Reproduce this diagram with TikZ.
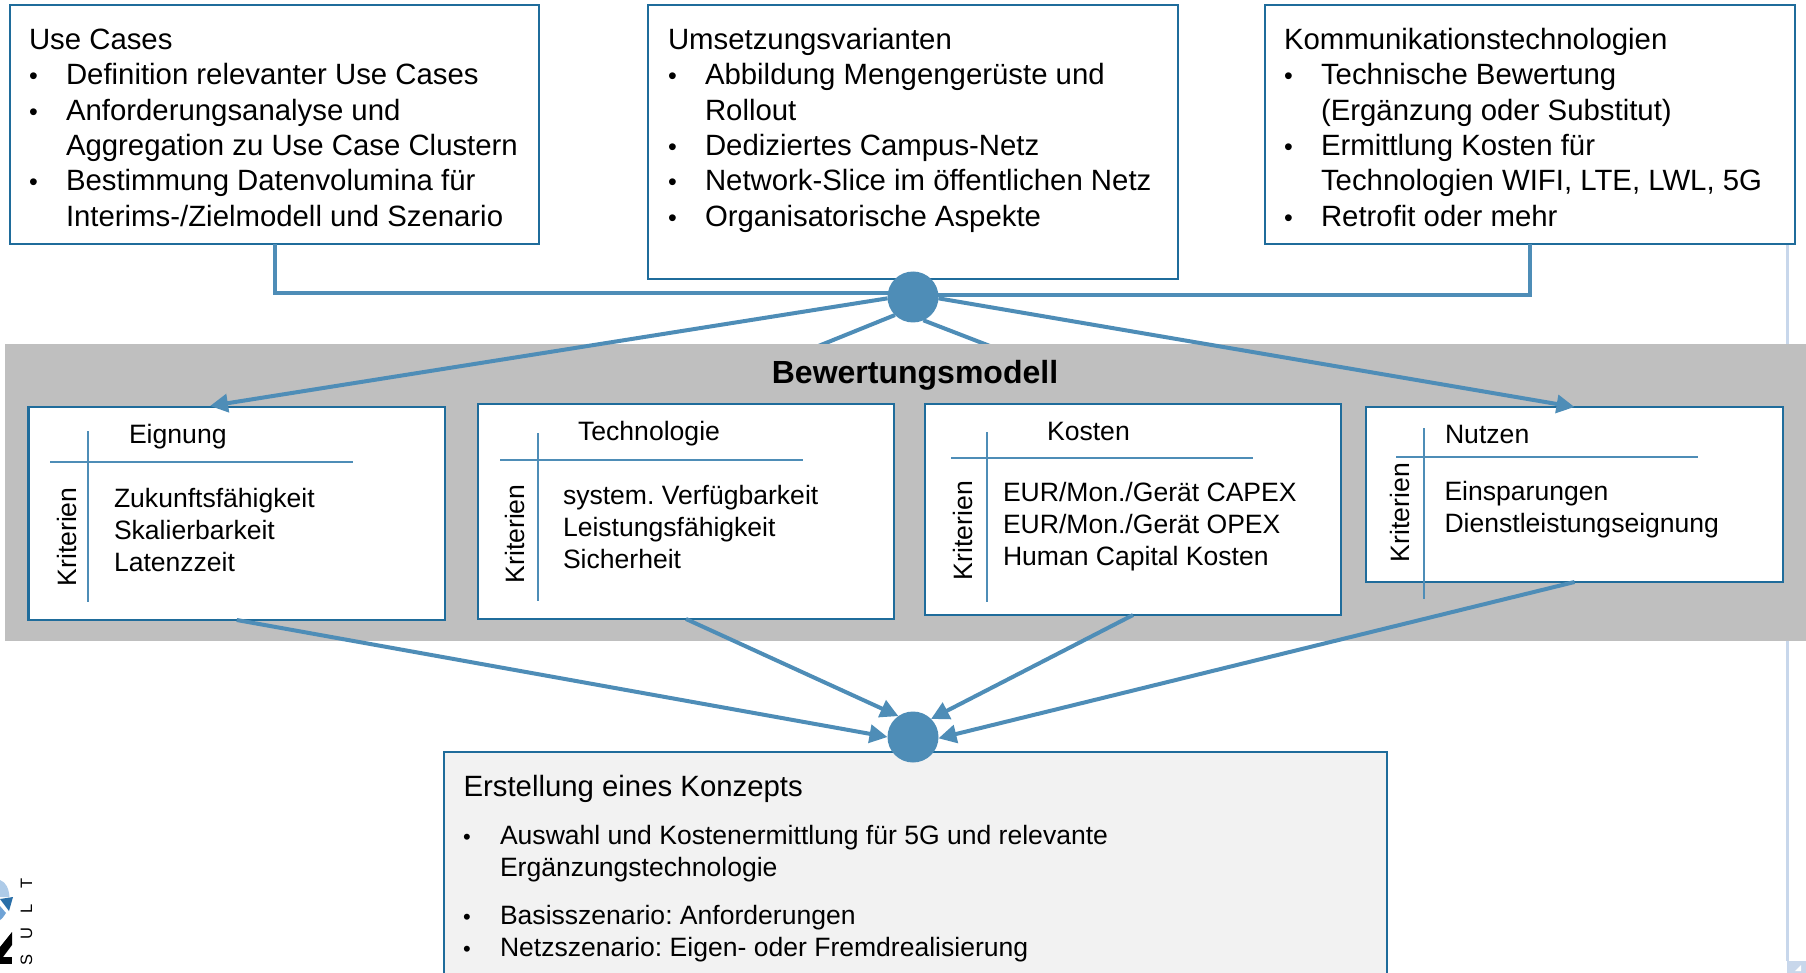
\documentclass[tikz,border=0pt]{standalone}
\usepackage{fontspec}
\setmainfont{Liberation Sans}
\usetikzlibrary{arrows.meta}
\definecolor{edgeblue}{HTML}{1F6C9B}
\definecolor{linkblue}{HTML}{4E8DB7}
\definecolor{greyband}{HTML}{BFBFBF}
\definecolor{paleblue}{HTML}{C8D7EB}
\definecolor{logolight}{HTML}{AECBE8}
\definecolor{logomid}{HTML}{6FA3D6}
\definecolor{logodark}{HTML}{2A6FA8}
\newcommand{\bul}[1]{\makebox[37pt][l]{\fontsize{25}{25}\selectfont •}#1}
\newcommand{\cnt}[1]{\hspace*{37pt}#1}
\newcommand{\bulb}[1]{\makebox[37pt][l]{\fontsize{22}{22}\selectfont •}#1}
\newcommand{\fr}{\rule{0pt}{25pt}}
\frenchspacing
\tikzset{
  x=1pt,y=-1pt,
  boxn/.style={draw=edgeblue,line width=2.6pt,fill=white,anchor=north west,inner sep=0pt,outer sep=0pt},
  bigtxt/.style={anchor=north west,inner sep=0pt,outer sep=0pt,align=left,font=\fontsize{29.35}{35.3}\selectfont},
  smalltxt/.style={anchor=north west,inner sep=0pt,outer sep=0pt,align=left,font=\fontsize{26.55}{32}\selectfont},
  titletxt/.style={anchor=base west,inner sep=0pt,outer sep=0pt,font=\fontsize{26.6}{32}\selectfont},
  kritxt/.style={anchor=base west,rotate=90,inner sep=0pt,outer sep=0pt,font=\fontsize{26.6}{32}\selectfont},
  dotn/.style={circle,fill=linkblue,draw=none,minimum size=51pt,inner sep=0pt,outer sep=0pt},
  link/.style={draw=linkblue,line width=4pt},
  linkarrow/.style={draw=linkblue,line width=4pt,-{Triangle[length=18pt,width=18pt]}},
  ruleline/.style={draw=linkblue,line width=2pt}
}
\begin{document}
\begin{tikzpicture}
\useasboundingbox (0,0) rectangle (1806,973);
\fill[white] (0,0) rectangle (1806,973);
% page remnants
\fill[paleblue] (1786,244) rectangle (1788.5,961);
\fill[paleblue] (1787,961) rectangle (1806,973);
\fill[white] (1795,971) -- (1801,965) -- (1801,971) -- cycle;
% logo remnant
\fill[logolight] (0,880) .. controls (6,882) and (9,889) .. (9.5,897) -- (0,897) -- cycle;
\fill[logodark] (0,899) -- (13,897) -- (9,911) -- cycle;
\fill[logomid] (0,906) -- (6,913) .. controls (4,916) and (2,919) .. (0,920) -- cycle;
\fill[black] (12,932) -- (12,945) -- (3,957) -- (0,957) -- (0,947) -- cycle;
\fill[black] (0,957) rectangle (12,964);
\node[kritxt,font=\fontsize{16.5}{20}\selectfont] (logotext) at (32,965) {S\hspace{14.5pt}U\hspace{14.5pt}L\hspace{15pt}T};
% top boxes
\node[boxn,minimum width=529pt,minimum height=239pt] (b1) at (10,5) {};
\node[boxn,minimum width=530pt,minimum height=274pt] (b2) at (648,5) {};
\node[boxn,minimum width=530pt,minimum height=239pt] (b3) at (1265,5) {};
\node[bigtxt] (t1) at (29,24.7) {\fr Use Cases\\ \bul{Definition relevanter Use Cases}\\ \bul{Anforderungsanalyse und}\\ \cnt{Aggregation zu Use Case Clustern}\\ \bul{Bestimmung Datenvolumina für}\\ \cnt{Interims-/Zielmodell und Szenario}};
\node[bigtxt] (t2) at (668,24.7) {\fr Umsetzungsvarianten\\ \bul{Abbildung Mengengerüste und}\\ \cnt{Rollout}\\ \bul{Dediziertes Campus-Netz}\\ \bul{Network-Slice im öffentlichen Netz}\\ \bul{Organisatorische Aspekte}};
\node[bigtxt] (t3) at (1284,24.7) {\fr Kommunikationstechnologien\\ \bul{Technische Bewertung}\\ \cnt{(Ergänzung oder Substitut)}\\ \bul{Ermittlung Kosten für}\\ \cnt{Technologien WIFI, LTE, LWL, 5G}\\ \bul{Retrofit oder mehr}};
% upper hub
\node[dotn] (c1) at (913,297) {};
\coordinate (midL) at (675,404);
\coordinate (midR) at (1140,404);
\coordinate (eTop) at (210,406);
\path[link] (c1.225) -- (midL);
\path[link] (c1.294) -- (midR);
% band
\node[fill=greyband,anchor=north west,minimum width=1801pt,minimum height=297pt,inner sep=0pt,outer sep=0pt] (band) at (5,344) {};
\node[anchor=base,inner sep=0pt,font=\bfseries\fontsize{32}{36}\selectfont] (bandtitle) at (915,383) {Bewertungsmodell};
% criteria boxes
\node[boxn,minimum width=416.5pt,minimum height=213pt] (E) at (28.5,407) {};
\node[boxn,minimum width=416pt,minimum height=215pt] (T) at (478,404) {};
\node[boxn,minimum width=416pt,minimum height=211pt] (K) at (925,404) {};
\node[boxn,minimum width=417pt,minimum height=175pt] (N) at (1366,407) {};
% Eignung
\coordinate (Ev1) at (88,431); \coordinate (Ev2) at (88,602);
\coordinate (Eh1) at (50,462); \coordinate (Eh2) at (353,462);
\draw[ruleline] (Ev1) -- (Ev2); \draw[ruleline] (Eh1) -- (Eh2);
\node[titletxt] (Etitle) at (129,443) {Eignung};
\node[kritxt] (Ekrit) at (76,586.5) {Kriterien};
\node[smalltxt] (Ebody) at (114,482) {\fr Zukunftsfähigkeit\\ Skalierbarkeit\\ Latenzzeit};
% Technologie
\coordinate (Tv1) at (538,433); \coordinate (Tv2) at (538,601);
\coordinate (Th1) at (500,460); \coordinate (Th2) at (803,460);
\draw[ruleline] (Tv1) -- (Tv2); \draw[ruleline] (Th1) -- (Th2);
\node[titletxt] (Ttitle) at (578,440) {Technologie};
\node[kritxt] (Tkrit) at (524,583.5) {Kriterien};
\node[smalltxt] (Tbody) at (563,479) {\fr system. Verfügbarkeit\\ Leistungsfähigkeit\\ Sicherheit};
% Kosten
\coordinate (Kv1) at (987,432); \coordinate (Kv2) at (987,602);
\coordinate (Kh1) at (951,458); \coordinate (Kh2) at (1253,458);
\draw[ruleline] (Kv1) -- (Kv2); \draw[ruleline] (Kh1) -- (Kh2);
\node[titletxt] (Ktitle) at (1047,440) {Kosten};
\node[kritxt] (Kkrit) at (972,580) {Kriterien};
\node[smalltxt] (Kbody) at (1003,476) {\fr EUR/Mon./Gerät CAPEX\\ EUR/Mon./Gerät OPEX\\ Human Capital Kosten};
% Nutzen
\coordinate (Nv1) at (1424,428); \coordinate (Nv2) at (1424,599);
\coordinate (Nh1) at (1396,457); \coordinate (Nh2) at (1698,457);
\draw[ruleline] (Nv1) -- (Nv2); \draw[ruleline] (Nh1) -- (Nh2);
\node[titletxt] (Ntitle) at (1445,443) {Nutzen};
\node[kritxt] (Nkrit) at (1409,562) {Kriterien};
\node[smalltxt] (Nbody) at (1444.5,475) {\fr Einsparungen\\ Dienstleistungseignung};
% result box
\node[boxn,fill=black!5,minimum width=943pt,minimum height=240pt] (R) at (444,752) {};
\node[bigtxt] (Rtitle) at (463.5,771) {\fr Erstellung eines Konzepts};
\node[smalltxt] (Rb1) at (463,819) {\fr\bulb{Auswahl und Kostenermittlung für 5G und relevante}\\ \cnt{Ergänzungstechnologie}};
\node[smalltxt] (Rb2) at (463,899) {\fr\bulb{Basisszenario: Anforderungen}\\ \bulb{Netzszenario: Eigen- oder Fremdrealisierung}};
\node[dotn] (c2) at (913,737) {};
% connectors
\draw[link] (b1.south) |- (c1.172);
\draw[link] (b3.south) |- (c1.5);
\draw[linkarrow] (c1.183) -- (eTop);
\draw[linkarrow] (c1.357) -- (N.north);
\draw[linkarrow] (E.south) -- (c2.180);
\draw[linkarrow] (T.south) -- (c2.125);
\draw[linkarrow] (K.south) -- (c2.45);
\draw[linkarrow] (N.south) -- (c2.357);
\end{tikzpicture}
\end{document}
